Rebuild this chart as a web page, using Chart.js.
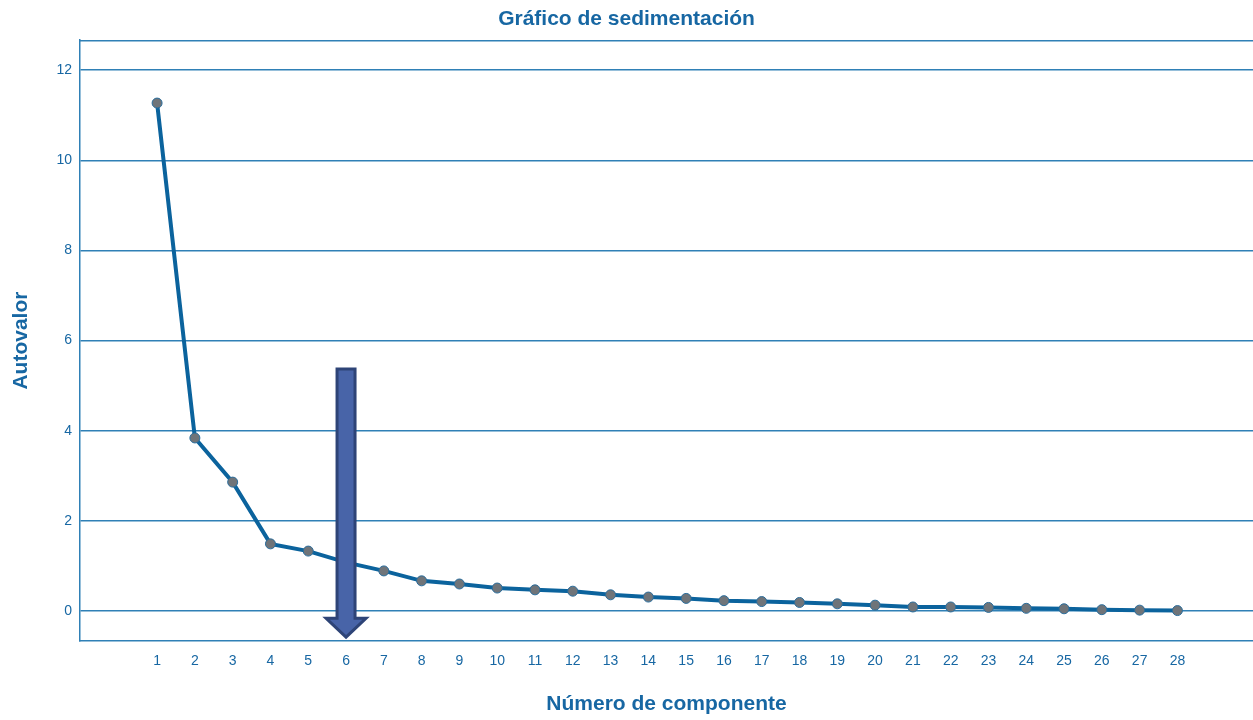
<!DOCTYPE html>
<html>
<head>
<meta charset="utf-8">
<script src="https://cdn.jsdelivr.net/npm/chart.js@4"></script>
<style>
  html, body { margin: 0; padding: 0; background: #fff; }
  #wrap { width: 1253px; height: 720px; position: relative; }
</style>
</head>
<body>
<div id="wrap"><canvas id="screeChart"></canvas></div>
<script>
// componentes y autovalores
const components = [1, 2, 3, 4, 5, 6, 7, 8, 9, 10, 11, 12, 13, 14, 15, 16, 17, 18, 19, 20, 21, 22, 23, 24, 25, 26, 27, 28];
const eigenvalues = [11.27, 3.84, 2.86, 1.49, 1.33, 1.08, 0.89, 0.67, 0.60, 0.51, 0.47, 0.44, 0.36, 0.31,
                     0.28, 0.23, 0.21, 0.19, 0.16, 0.13, 0.09, 0.09, 0.08, 0.06, 0.05, 0.03, 0.02, 0.01];
const yTicks = [0, 2, 4, 6, 8, 10, 12];
// flecha que marca el componente 6
const arrowAt = { x: 6, from: 5.37, to: -0.58, headStart: -0.16 };

const blue = '#1767a3';
const gridBlue = '#2f80b6';
const font = "'Liberation Sans', Arial, sans-serif";

const frame = {
    id: 'frame',
    beforeDatasetsDraw(chart) {
        const { ctx, chartArea } = chart;
        ctx.save();
        ctx.strokeStyle = gridBlue;
        ctx.lineWidth = 1.5;
        ctx.beginPath();
        ctx.moveTo(chartArea.left, chartArea.top + 0.5);
        ctx.lineTo(chartArea.right, chartArea.top + 0.5);
        ctx.stroke();
        ctx.restore();
    },
    afterDatasetsDraw(chart) {
        const { ctx } = chart;
        const xs = chart.scales.x, ys = chart.scales.y;
        const cx = xs.getPixelForValue(arrowAt.x);
        const top = ys.getPixelForValue(arrowAt.from);
        const tip = ys.getPixelForValue(arrowAt.to);
        const head = ys.getPixelForValue(arrowAt.headStart);
        const sw = 9, hw = 20;
        ctx.save();
        ctx.fillStyle = '#4864a8';
        ctx.strokeStyle = '#2e4477';
        ctx.lineWidth = 3;
        ctx.lineJoin = 'miter';
        ctx.beginPath();
        ctx.moveTo(cx - sw, top);
        ctx.lineTo(cx + sw, top);
        ctx.lineTo(cx + sw, head);
        ctx.lineTo(cx + hw, head);
        ctx.lineTo(cx, tip);
        ctx.lineTo(cx - hw, head);
        ctx.lineTo(cx - sw, head);
        ctx.closePath();
        ctx.fill();
        ctx.stroke();
        ctx.restore();
    }
};

const ctx = document.getElementById('screeChart').getContext('2d');
new Chart(ctx, {
    type: 'line',
    data: {
        datasets: [{
            data: components.map((c, i) => ({ x: c, y: eigenvalues[i] })),
            borderColor: '#0b639d',
            borderWidth: 4,
            tension: 0,
            pointRadius: 5,
            pointBackgroundColor: '#6f7479',
            pointBorderColor: '#2a6d9c',
            pointBorderWidth: 1
        }]
    },
    options: {
        responsive: true,
        maintainAspectRatio: false,
        animation: false,
        layout: { autoPadding: false, padding: 0 },
        plugins: {
            legend: { display: false },
            tooltip: { enabled: false },
            title: {
                display: true,
                text: 'Gráfico de sedimentación',
                color: blue,
                font: { family: font, size: 21, weight: 'bold' },
                padding: { top: 7, bottom: 8 }
            }
        },
        scales: {
            x: {
                type: 'linear',
                min: -1.04,
                max: 30,
                afterBuildTicks: (s) => { s.ticks = components.map(v => ({ value: v })); },
                afterFit: (s) => { s.height = 79; s.paddingLeft = 0; s.paddingRight = 0; },
                grid: { display: false, drawTicks: false },
                border: { display: true, color: gridBlue, width: 1.5 },
                ticks: {
                    color: blue,
                    autoSkip: false,
                    maxRotation: 0,
                    padding: 12,
                    font: { family: font, size: 14 }
                },
                title: {
                    display: true,
                    text: 'Número de componente',
                    color: blue,
                    font: { family: font, size: 21, weight: 'bold' },
                    padding: { top: 0, bottom: 3 }
                }
            },
            y: {
                min: -0.665,
                max: 12.665,
                afterBuildTicks: (s) => { s.ticks = yTicks.map(v => ({ value: v })); },
                afterFit: (s) => { s.width = 80; },
                grid: { color: gridBlue, lineWidth: 1.5, drawTicks: false },
                border: { display: true, color: gridBlue, width: 1.5 },
                ticks: {
                    color: blue,
                    padding: 8,
                    font: { family: font, size: 14 }
                },
                title: {
                    display: true,
                    text: 'Autovalor',
                    color: blue,
                    font: { family: font, size: 21, weight: 'bold' },
                    padding: { top: 9, bottom: 0 }
                }
            }
        }
    },
    plugins: [frame]
});
</script>
</body>
</html>
